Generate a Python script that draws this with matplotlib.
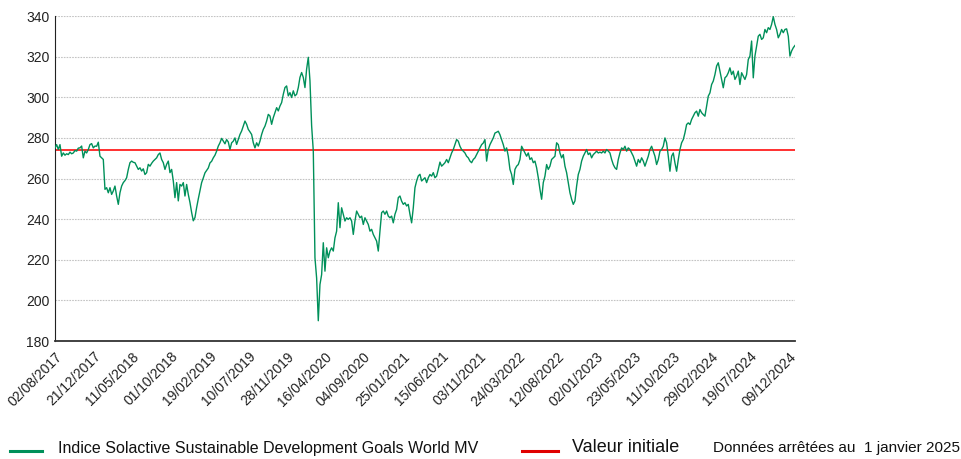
import matplotlib
matplotlib.use('Agg')
import matplotlib.pyplot as plt
from matplotlib.lines import Line2D
from matplotlib.transforms import ScaledTranslation
import pandas as pd

plt.rcParams['font.family'] = ['Liberation Sans', 'DejaVu Sans']

# Série (environ un point tous les 6 jours)
start_date = '2017-08-02'
end_date = '2024-12-31'

values_2017_2018 = [
    275.1, 276.7, 274.3, 276.7, 271.0, 272.6, 271.5, 272.2, 271.8, 273.0,
    272.2, 272.6, 273.8, 273.5, 275.0, 275.1, 276.0, 270.2, 273.5, 272.6,
    274.3, 276.7, 277.2, 275.1, 276.0, 275.9, 277.9, 271.0, 270.2, 269.4,
    254.7, 255.5, 253.0, 255.5, 252.2, 253.9, 256.3, 251.4, 247.3, 253.0,
    256.3, 258.0, 259.0, 260.4, 264.5, 267.8, 268.6, 268.0, 267.8, 266.1,
    264.5, 265.3, 263.7, 264.8, 262.0, 262.9, 267.0, 266.1, 267.5, 268.6,
    269.4, 270.2, 271.8, 272.6, 269.4, 267.8, 264.5, 267.0, 268.6, 262.9,
    264.5, 258.8, 250.6, 258.0, 249.0, 257.1, 256.3, 258.0, 251.4, 257.1,
    252.2, 248.2, 243.3, 239.2, 240.8, 245.7, 250.0, 253.9,
]
values_2019 = [
    258.0, 260.3, 262.8, 264.0, 265.2, 267.7, 268.5, 270.2, 271.5, 273.5,
    276.0, 277.6, 279.8, 278.4, 277.1, 279.2, 278.0, 274.3, 277.6, 278.4,
    280.0, 276.8, 279.2, 281.7, 283.4, 285.8, 288.3, 286.7, 284.2, 283.0,
    281.7, 277.6, 275.1, 277.6, 276.0, 278.4, 281.7, 284.2, 285.8, 288.3,
    291.6, 290.8, 286.7, 290.0, 292.5, 294.9, 293.3, 295.7, 297.4, 301.5,
    304.8, 305.6, 300.7, 302.3, 299.9, 303.2, 300.7, 301.5, 304.8, 309.8,
    312.2, 309.8, 304.8, 313.9, 319.7,
]
values_2020 = [
    308.2, 286.0, 273.6, 221.0, 211.0, 190.0, 207.8, 212.7, 228.4, 214.4,
    225.9, 221.0, 224.3, 225.9, 224.3, 230.8, 234.1, 248.1, 235.8, 245.6,
    242.4, 239.1, 240.7, 239.9, 240.7, 239.1, 232.5, 239.1, 244.0, 242.4,
    240.7, 241.5, 237.4, 240.7, 239.1, 237.4, 234.1, 235.0, 232.5, 230.8,
    229.2, 224.3, 234.1, 243.2, 244.0, 242.4, 244.0, 241.5, 240.7, 241.5,
    238.2, 242.4, 244.8, 250.6, 251.4, 248.9, 247.3, 248.1, 246.5, 247.3,
    242.4, 238.2, 245.6, 255.5, 258.8, 261.3, 262.1,
]
values_2021_2022 = [
    258.8, 259.6, 260.4, 258.0, 260.4, 262.0, 261.2, 262.9, 260.4, 261.2,
    264.5, 268.1, 266.1, 266.9, 267.8, 269.4, 267.8, 270.2, 272.6, 274.3,
    276.7, 279.2, 278.4, 275.9, 274.3, 273.5, 272.6, 271.0, 270.2, 268.6,
    267.8, 269.4, 270.2, 271.8, 273.5, 275.1, 276.7, 277.5, 279.2, 268.6,
    274.3, 276.7, 278.4, 280.0, 282.4, 282.8, 283.3, 281.6, 279.2, 276.7,
    273.5, 275.1, 271.0, 264.5, 262.0, 257.1, 264.5, 266.1, 266.9, 269.4,
    275.9, 274.3, 272.6, 271.0, 272.6, 269.4, 270.2, 267.8, 268.6, 265.3,
    260.4, 254.7, 249.8, 258.0, 261.2, 266.9, 264.5, 266.1, 269.4, 270.2,
]
values_2022_2023 = [
    271.0, 277.6, 276.7, 272.6, 270.2, 271.8, 266.1, 262.9, 258.0, 253.0,
    249.8, 247.3, 249.0, 256.3, 262.0, 264.5, 268.6, 271.0, 272.6, 274.3,
    271.8, 272.6, 270.2, 271.8, 272.6, 273.5, 272.6, 273.0, 272.6, 273.5,
    272.6, 274.3, 273.5, 272.6, 269.4, 266.9, 265.3, 264.5, 269.4, 272.6,
    275.1, 274.3, 275.9, 273.5, 275.1, 274.3, 272.6, 271.0, 268.6, 266.1,
    269.4, 267.8, 270.2, 268.6, 266.1, 268.6, 271.0, 274.3, 275.9, 273.5,
    271.0,
]
values_2023_2024 = [
    266.9, 269.3, 273.5, 274.3, 275.9, 280.0, 277.6, 271.0, 263.6, 271.0,
    272.6, 267.7, 263.6, 269.3, 274.3, 277.6, 279.2, 282.5, 286.6, 287.4,
    286.6, 289.1, 290.7, 292.4, 293.2, 290.7, 294.0, 292.4, 291.5, 290.7,
    295.6, 300.6, 302.2, 306.3, 308.0, 311.2, 315.4, 317.0, 312.9, 308.8,
    304.7, 309.6, 310.4, 312.1, 314.5, 311.2, 312.9, 308.8, 310.4, 312.9,
    306.3, 312.1, 310.4, 308.8, 311.2, 318.6, 320.3, 327.7, 309.6, 320.3,
    325.2, 330.1, 331.0, 328.5, 329.3, 333.4, 331.8, 334.3, 333.4, 335.9,
    339.7, 335.9, 333.4, 329.3, 331.0, 333.4, 331.8, 333.4, 333.7, 330.1,
    320.3, 322.8, 324.4, 325.5,
]

initial_value = 274.2

tick_labels = [
    '02/08/2017', '21/12/2017', '11/05/2018', '01/10/2018', '19/02/2019',
    '10/07/2019', '28/11/2019', '16/04/2020', '04/09/2020', '25/01/2021',
    '15/06/2021', '03/11/2021', '24/03/2022', '12/08/2022', '02/01/2023',
    '23/05/2023', '11/10/2023', '29/02/2024', '19/07/2024', '09/12/2024',
]
y_ticks = [180, 200, 220, 240, 260, 280, 300, 320, 340]

series_name = 'Indice Solactive Sustainable Development Goals World MV'
ref_name = 'Valeur initiale'
note = 'Données arrêtées au  1 janvier 2025'

green = '#00905A'
red = '#FF2020'

values = (values_2017_2018 + values_2019 + values_2020
          + values_2021_2022 + values_2022_2023 + values_2023_2024)
dates = pd.date_range(start_date, end_date, periods=len(values))

fig = plt.figure(figsize=(9.61, 4.59), dpi=100)
ax = fig.add_axes([0.0572, 0.257, 0.7700, 0.708])

ax.plot(dates, values, color=green, lw=1.0, zorder=3)
ax.axhline(initial_value, color=red, lw=1.3, zorder=2)

ax.set_ylim(180, 340)
ax.set_yticks(y_ticks)
ax.set_xlim(pd.Timestamp(start_date), pd.Timestamp(end_date))
tick_dates = pd.to_datetime(tick_labels, format='%d/%m/%Y')
ax.set_xticks(tick_dates)
ax.set_xticklabels(tick_labels, rotation=45, ha='right', rotation_mode='anchor')
# décaler un peu les étiquettes vers la droite comme dans l'original
shift = ScaledTranslation(4 / 100, -2 / 100, fig.dpi_scale_trans)
for lab in ax.get_xticklabels():
    lab.set_transform(lab.get_transform() + shift)

ax.grid(axis='y', color='#C4C4C4', linestyle=(0, (1.5, 1)), lw=0.8)
ax.set_axisbelow(True)
for s in ['top', 'right']:
    ax.spines[s].set_visible(False)
ax.spines['left'].set_color('#222222')
ax.spines['bottom'].set_color('#333333')
ax.spines['bottom'].set_linewidth(1.3)
ax.tick_params(axis='both', length=0, colors='#222222')
ax.tick_params(axis='y', labelsize=10, pad=4)
ax.tick_params(axis='x', labelsize=10, pad=6)

# Légende en bas, placée à la main
ly = 1 - 451 / 459
ty = 1 - 448 / 459
fig.add_artist(Line2D([10 / 961, 42 / 961], [ly, ly], color=green, lw=2.2))
fig.text(58 / 961, ty, series_name, fontsize=11.5, va='center', color='#111111')
fig.add_artist(Line2D([522 / 961, 558 / 961], [ly, ly], color='#E00000', lw=2.2))
fig.text(572 / 961, ty, ref_name, fontsize=13, va='center', color='#111111')
fig.text(713 / 961, ty, note, fontsize=11, va='center', color='#111111')

plt.savefig('out.png', dpi=100)
